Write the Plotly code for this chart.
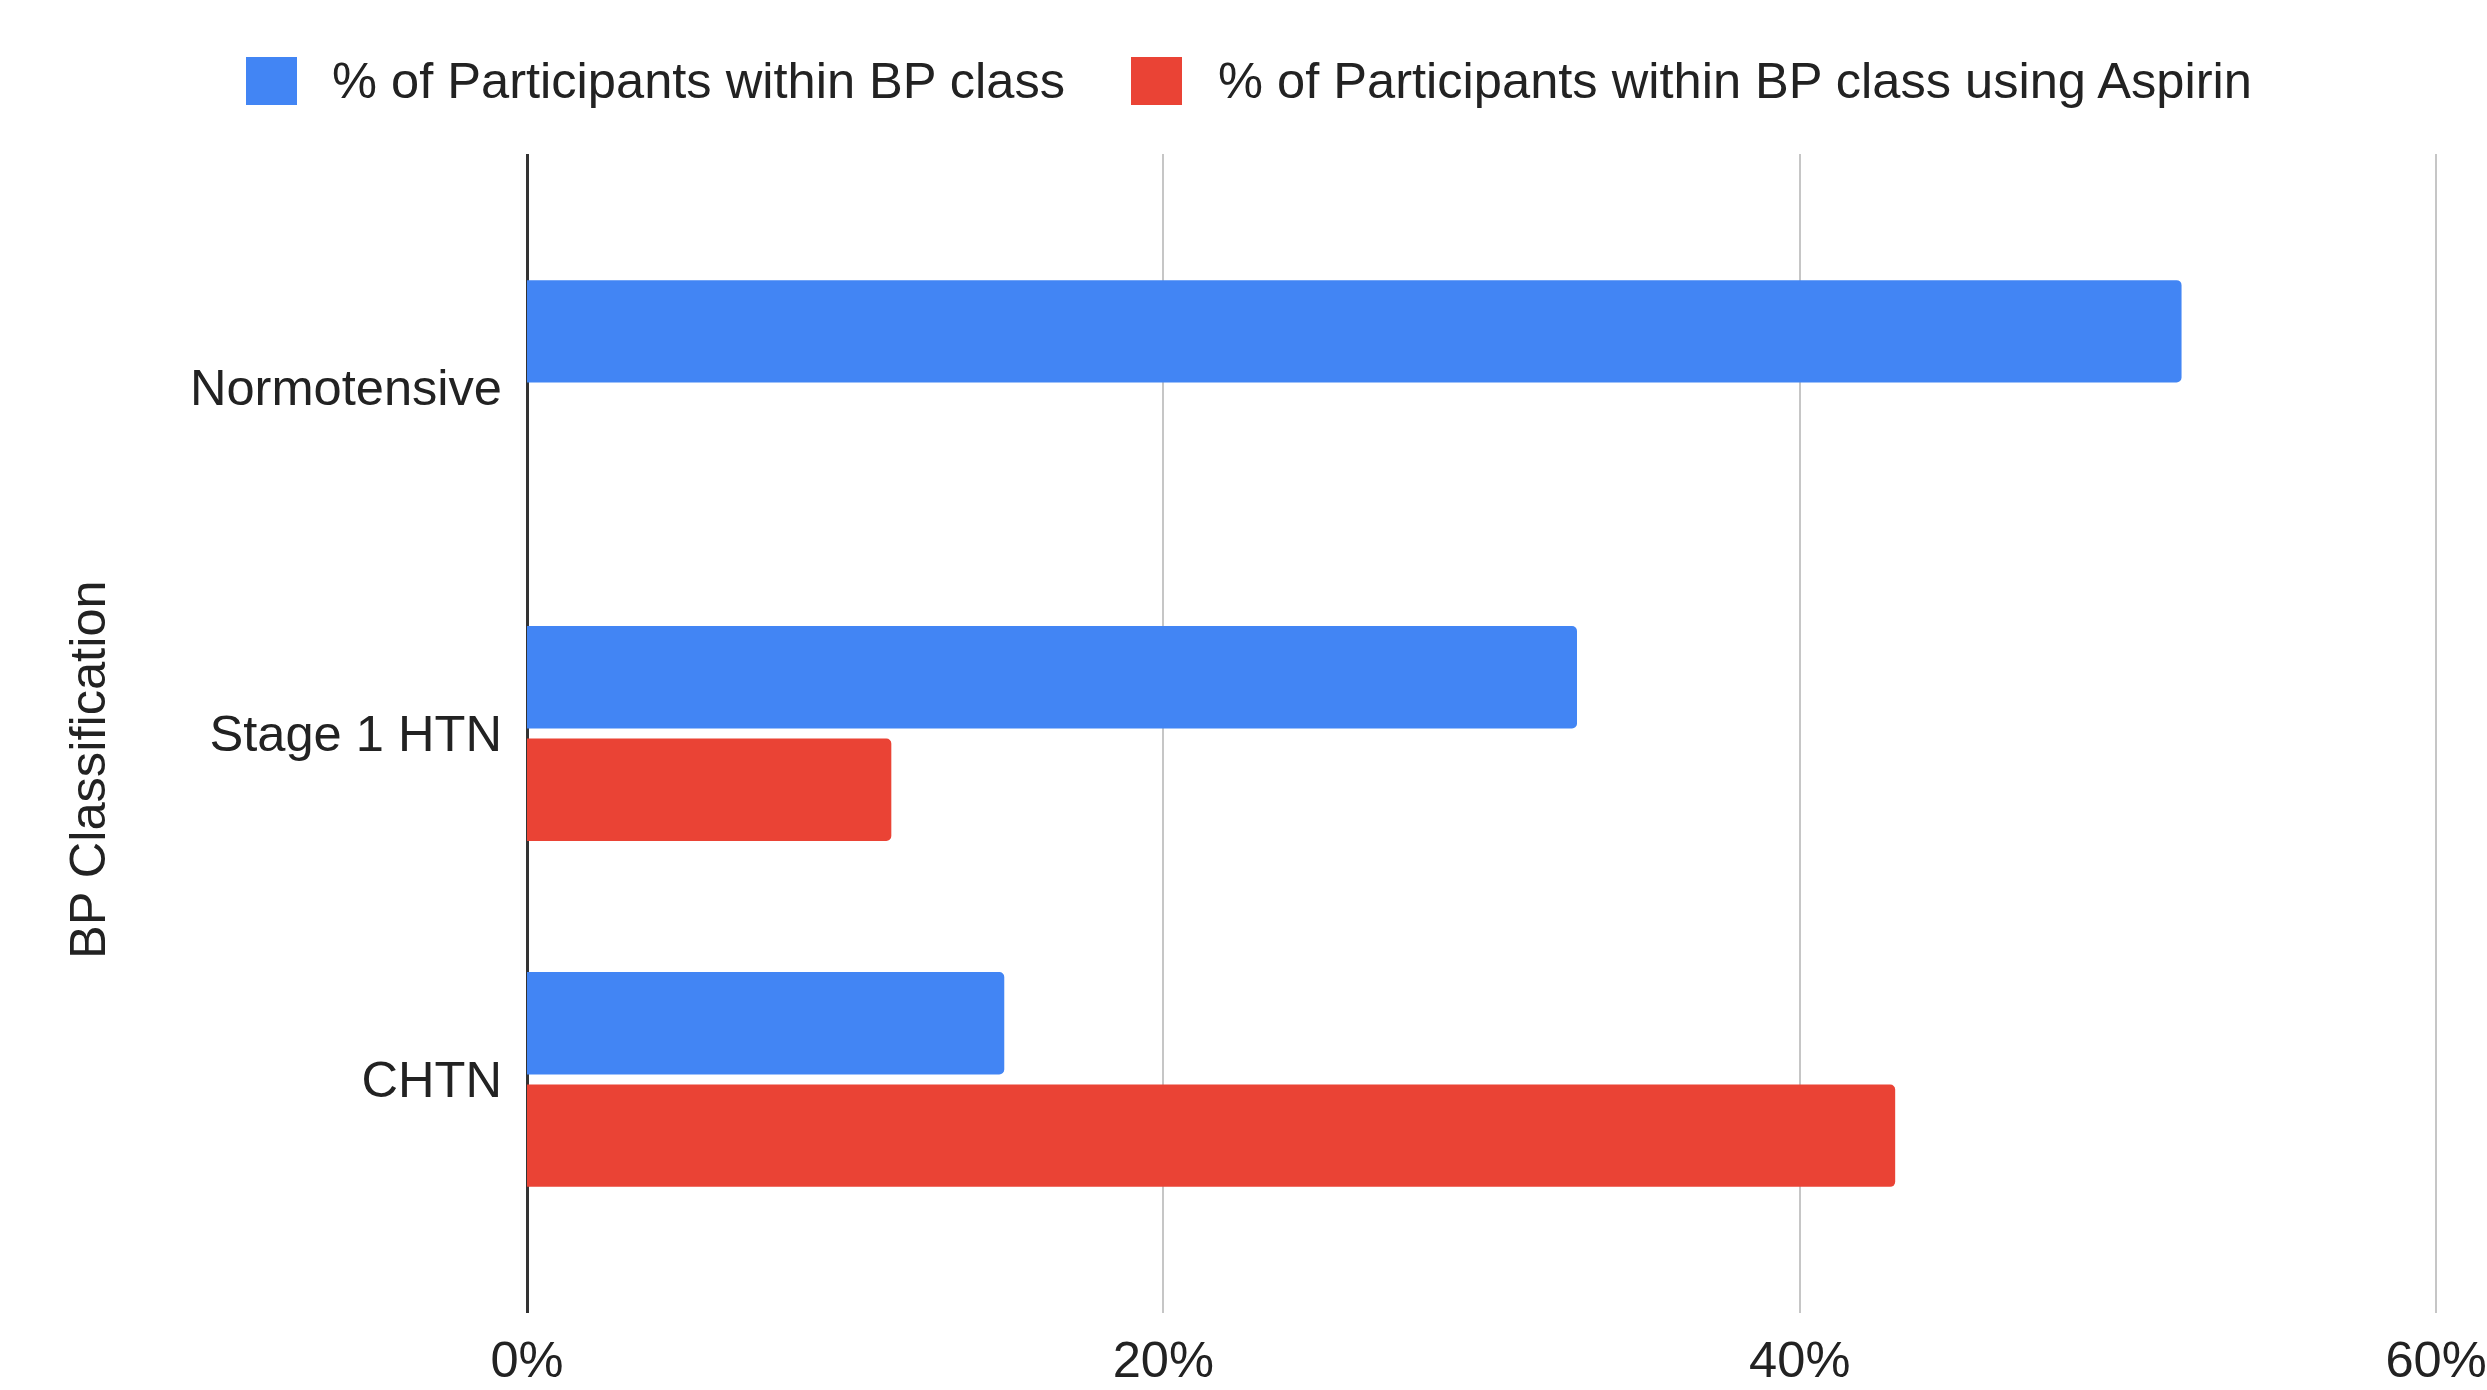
import plotly.graph_objects as go

categories = ["Normotensive", "Stage 1 HTN", "CHTN"]
pct_within_class = [52.0, 33.0, 15.0]
pct_using_aspirin = [None, 11.45, 43.0]
series_names = ["% of Participants within BP class",
                "% of Participants within BP class using Aspirin"]
series_colors = ["#4285F4", "#EA4335"]
x_ticks = [0, 20, 40, 60]
x_tick_labels = ["0%", "20%", "40%", "60%"]
y_title = "BP Classification"

W, H = 2487, 1390
ML, MR, MT, MB = 527, 49, 154, 77
PW, PH = W - ML - MR, H - MT - MB
FONT = "Liberation Sans, Arial, sans-serif"
FS = 50.6

def px_x(p):
    return (p - ML) / PW

def px_y(p):
    return (H - MB - p) / PH

fig = go.Figure()
for name, vals, col in zip(series_names, [pct_within_class, pct_using_aspirin], series_colors):
    fig.add_trace(go.Bar(
        y=categories, x=vals, name=name, orientation="h",
        marker=dict(color=col, line=dict(width=0), cornerradius=5),
        showlegend=False,
    ))

# custom legend (large swatches like the reference)
legend_items = [(246, 330), (1131, 1216)]
shapes, annotations = [], []
for (sx, tx), name, col in zip(legend_items, series_names, series_colors):
    shapes.append(dict(type="rect", xref="paper", yref="paper",
                       x0=px_x(sx), x1=px_x(sx + 51), y0=px_y(105), y1=px_y(57),
                       fillcolor=col, line=dict(width=0)))
    annotations.append(dict(xref="paper", yref="paper", x=px_x(tx), y=px_y(81),
                            xanchor="left", yanchor="middle", showarrow=False,
                            text=name, font=dict(size=FS, color="#222222", family=FONT)))

# y-axis title
annotations.append(dict(xref="paper", yref="paper", x=px_x(87), y=px_y(770),
                        xanchor="center", yanchor="middle", showarrow=False, textangle=-90,
                        text=y_title, font=dict(size=FS, color="#222222", family=FONT)))

fig.update_layout(
    width=W, height=H,
    margin=dict(l=ML, r=MR, t=MT, b=MB, autoexpand=False),
    paper_bgcolor="white", plot_bgcolor="white",
    barmode="group", bargap=0.35, bargroupgap=0.09,
    font=dict(family=FONT, size=FS, color="#222222"),
    shapes=shapes, annotations=annotations,
    xaxis=dict(range=[0, 60.06], tickvals=x_ticks, ticktext=x_tick_labels,
               showgrid=True, gridcolor="#c6c6c6", gridwidth=2,
               zeroline=True, zerolinecolor="#333333", zerolinewidth=3,
               showline=False, ticks="", tickfont=dict(size=FS, color="#222222"),
               ticklabelstandoff=12, ticklabeloverflow="allow"),
    yaxis=dict(categoryorder="array", categoryarray=categories,
               range=[2.675, -0.675], showgrid=False, zeroline=False, showline=False,
               ticks="", ticklabelstandoff=24, tickfont=dict(size=FS, color="#222222")),
)
fig.write_html("out.html")
